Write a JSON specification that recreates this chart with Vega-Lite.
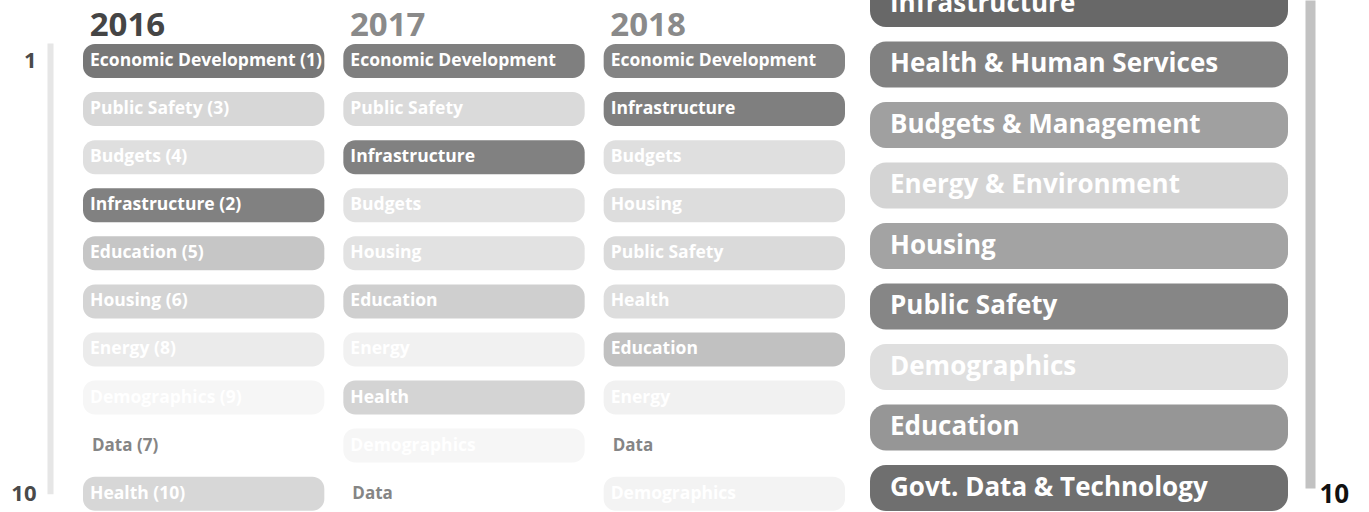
{
  "$schema": "https://vega.github.io/schema/vega-lite/v6.json",
  "width": 1369,
  "height": 512,
  "padding": 0,
  "autosize": {"type": "none"},
  "background": "white",
  "config": {"view": {"stroke": null}, "font": "Open Sans"},
  "datasets": {
    "earlier": [
      {"year": 2016, "rank": 1, "topic": "Economic Development (1)", "shade": 50},
      {"year": 2016, "rank": 2, "topic": "Public Safety (3)", "shade": 14},
      {"year": 2016, "rank": 3, "topic": "Budgets (4)", "shade": 11},
      {"year": 2016, "rank": 4, "topic": "Infrastructure (2)", "shade": 46},
      {"year": 2016, "rank": 5, "topic": "Education (5)", "shade": 20},
      {"year": 2016, "rank": 6, "topic": "Housing (6)", "shade": 15},
      {"year": 2016, "rank": 7, "topic": "Energy (8)", "shade": 7},
      {"year": 2016, "rank": 8, "topic": "Demographics (9)", "shade": 3},
      {"year": 2016, "rank": 9, "topic": "Data (7)", "shade": null},
      {"year": 2016, "rank": 10, "topic": "Health (10)", "shade": 14},
      {"year": 2017, "rank": 1, "topic": "Economic Development", "shade": 47},
      {"year": 2017, "rank": 2, "topic": "Public Safety", "shade": 13},
      {"year": 2017, "rank": 3, "topic": "Infrastructure", "shade": 46},
      {"year": 2017, "rank": 4, "topic": "Budgets", "shade": 10},
      {"year": 2017, "rank": 5, "topic": "Housing", "shade": 10},
      {"year": 2017, "rank": 6, "topic": "Education", "shade": 17},
      {"year": 2017, "rank": 7, "topic": "Energy", "shade": 5},
      {"year": 2017, "rank": 8, "topic": "Health", "shade": 15},
      {"year": 2017, "rank": 9, "topic": "Demographics", "shade": 3},
      {"year": 2017, "rank": 10, "topic": "Data", "shade": null},
      {"year": 2018, "rank": 1, "topic": "Economic Development", "shade": 45},
      {"year": 2018, "rank": 2, "topic": "Infrastructure", "shade": 47},
      {"year": 2018, "rank": 3, "topic": "Budgets", "shade": 11},
      {"year": 2018, "rank": 4, "topic": "Housing", "shade": 12},
      {"year": 2018, "rank": 5, "topic": "Public Safety", "shade": 13},
      {"year": 2018, "rank": 6, "topic": "Health", "shade": 12},
      {"year": 2018, "rank": 7, "topic": "Education", "shade": 22},
      {"year": 2018, "rank": 8, "topic": "Energy", "shade": 5},
      {"year": 2018, "rank": 9, "topic": "Data", "shade": null},
      {"year": 2018, "rank": 10, "topic": "Demographics", "shade": 4}
    ],
    "latest": [
      {"year": 2019, "rank": 1, "topic": "Economic Development", "shade": 50},
      {"year": 2019, "rank": 2, "topic": "Infrastructure", "shade": 56},
      {"year": 2019, "rank": 3, "topic": "Health & Human Services", "shade": 46},
      {"year": 2019, "rank": 4, "topic": "Budgets & Management", "shade": 34},
      {"year": 2019, "rank": 5, "topic": "Energy & Environment", "shade": 15},
      {"year": 2019, "rank": 6, "topic": "Housing", "shade": 33},
      {"year": 2019, "rank": 7, "topic": "Public Safety", "shade": 44},
      {"year": 2019, "rank": 8, "topic": "Demographics", "shade": 11},
      {"year": 2019, "rank": 9, "topic": "Education", "shade": 38},
      {"year": 2019, "rank": 10, "topic": "Govt. Data & Technology", "shade": 53}
    ]
  },
  "layer": [
    {
      "data": {"name": "earlier"},
      "encoding": {
        "x": {
          "field": "year", "type": "ordinal",
          "scale": {"domain": [2016, 2017, 2018], "range": [83, 845], "paddingInner": 0.073, "paddingOuter": 0},
          "axis": {
            "orient": "top", "offset": -40, "title": null,
            "domain": false, "ticks": false, "tickSize": 0, "grid": false,
            "labelAngle": 0, "labelAlign": "left", "labelOffset": -114, "labelPadding": 5, "labelBaseline": "alphabetic",
            "labelFontSize": 33, "labelFontWeight": "bold", "labelFont": "Open Sans",
            "labelColor": {"condition": {"test": "datum.label == '2016'", "value": "#454545"}, "value": "#8a8a8a"}
          }
        },
        "y": {
          "field": "rank", "type": "quantitative",
          "scale": {"domain": [0.626, 10], "range": [43, 493.7], "zero": false, "nice": false},
          "axis": {
            "orient": "left", "offset": -50, "title": null, "values": [1, 10],
            "grid": false, "ticks": false, "tickSize": 0,
            "domain": true, "domainColor": "#e6e6e6", "domainWidth": 6,
            "labelPadding": 14, "labelFontSize": 22, "labelFontWeight": "bold", "labelColor": "#4a4a4a", "labelFont": "Open Sans"
          }
        }
      },
      "layer": [
        {
          "transform": [{"filter": "datum.shade != null"}],
          "mark": {"type": "rect", "height": 34, "cornerRadius": 12},
          "encoding": {
            "color": {"field": "shade", "type": "quantitative", "scale": {"domain": [0, 100], "range": ["#ffffff", "#000000"]}, "legend": null}
          }
        },
        {
          "transform": [{"filter": "datum.shade != null"}],
          "mark": {"type": "text", "align": "left", "baseline": "middle", "dx": 7, "fontSize": 17.5, "fontWeight": "bold", "color": "white"},
          "encoding": {
            "x": {"field": "year", "type": "ordinal", "bandPosition": 0},
            "text": {"field": "topic"}
          }
        },
        {
          "transform": [{"filter": "datum.shade == null"}],
          "mark": {"type": "text", "align": "left", "baseline": "middle", "dx": 9, "fontSize": 17, "fontWeight": "bold", "color": "#858585"},
          "encoding": {
            "x": {"field": "year", "type": "ordinal", "bandPosition": 0},
            "text": {"field": "topic"}
          }
        }
      ]
    },
    {
      "data": {"name": "latest"},
      "encoding": {
        "x": {
          "field": "year", "type": "ordinal",
          "scale": {"domain": [2019], "range": [870, 1288], "paddingInner": 0, "paddingOuter": 0},
          "axis": null
        },
        "y": {
          "field": "rank", "type": "quantitative",
          "scale": {"domain": [1.934, 10], "range": [0, 488], "zero": false, "nice": false},
          "axis": {
            "orient": "right", "offset": -59, "title": null, "values": [10],
            "grid": false, "ticks": false, "tickSize": 0,
            "domain": true, "domainColor": "#c2c2c2", "domainWidth": 10,
            "labelPadding": 9, "labelFontSize": 26, "labelFontWeight": "bold", "labelColor": "#111111", "labelFont": "Open Sans", "labelOffset": 6
          }
        }
      },
      "layer": [
        {
          "mark": {"type": "rect", "height": 46, "cornerRadius": 16},
          "encoding": {
            "color": {"field": "shade", "type": "quantitative", "scale": {"domain": [0, 100], "range": ["#ffffff", "#000000"]}, "legend": null}
          }
        },
        {
          "mark": {"type": "text", "align": "left", "baseline": "middle", "dx": 20, "fontSize": 26, "fontWeight": "bold", "color": "white"},
          "encoding": {
            "x": {"field": "year", "type": "ordinal", "bandPosition": 0},
            "text": {"field": "topic"}
          }
        }
      ]
    }
  ],
  "resolve": {"scale": {"x": "independent", "y": "independent"}, "axis": {"x": "independent", "y": "independent"}}
}
